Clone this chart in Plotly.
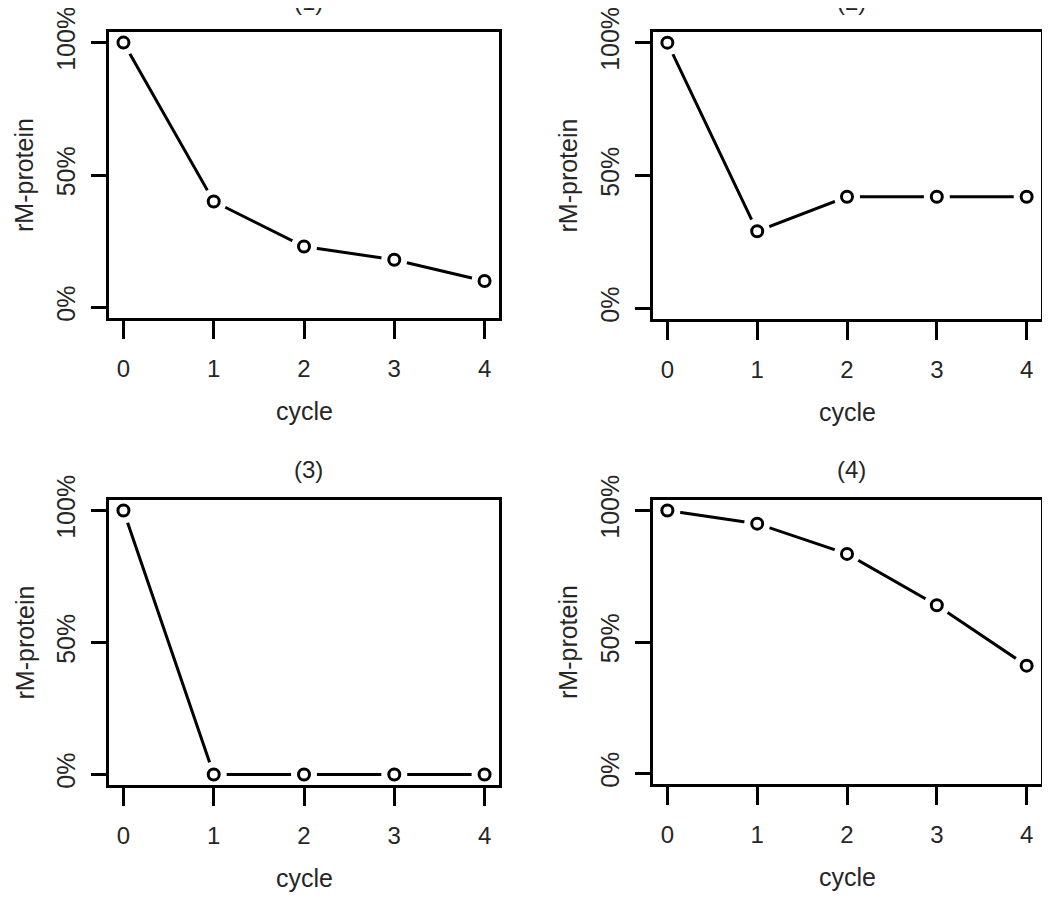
import plotly.graph_objects as go

# the page body has an 8px margin, so the figure is drawn 8px smaller and offset
PAGE_W, PAGE_H = 1050, 902
OFF = 8
W, H = PAGE_W - OFF, PAGE_H - OFF

cycles = [0, 1, 2, 3, 4]
panel1 = [100, 40, 23, 18, 10]
panel2 = [100, 29, 42, 42, 42]
panel3 = [100, 0, 0, 0, 0]
panel4 = [100, 95, 83.5, 64, 41]
panel_titles = ["(1)", "(2)", "(3)", "(4)"]
y_tickvals = [0, 50, 100]
y_ticktext = ["0%", "50%", "100%"]
x_label = "cycle"
y_label = "rM-protein"

series = [panel1, panel2, panel3, panel4]

# page-pixel boxes (left, right, top, bottom)
boxes = [(109, 499, 32, 318), (653, 1041, 32, 319),
         (109, 499, 500, 785), (653, 1041, 500, 784)]


def px(xp):
    return (xp - OFF) / W


def py(yp):
    return 1 - (yp - OFF) / H


TXT = "#262626"
FONT = "Liberation Sans, Arial, sans-serif"

fig = go.Figure()
annotations = []
for i, (vals, (l, r, t, b)) in enumerate(zip(series, boxes)):
    n = i + 1
    xa = "x" if n == 1 else f"x{n}"
    ya = "y" if n == 1 else f"y{n}"
    # line with white discs at the points -> gaps like R's type="b"
    fig.add_trace(go.Scatter(x=cycles, y=vals, mode="lines+markers", xaxis=xa, yaxis=ya,
                             line=dict(color="black", width=3),
                             marker=dict(symbol="circle", size=26, color="white",
                                         line=dict(width=0)),
                             showlegend=False, hoverinfo="skip"))
    # open circles
    fig.add_trace(go.Scatter(x=cycles, y=vals, mode="markers", xaxis=xa, yaxis=ya,
                             marker=dict(symbol="circle-open", size=11, color="black",
                                         line=dict(width=3, color="black")),
                             showlegend=False))
    common = dict(showline=True, linecolor="black", linewidth=3, mirror=True,
                  ticks="outside", tickwidth=3, tickcolor="black",
                  showgrid=False, zeroline=False, automargin=False,
                  ticklabeloverflow="allow")
    fig.layout[("xaxis" if n == 1 else f"xaxis{n}")] = dict(
        domain=[px(l), px(r)], anchor=ya, range=[-0.16, 4.16],
        tickvals=cycles, ticktext=[str(c) for c in cycles],
        ticklen=18, ticklabelstandoff=9,
        tickfont=dict(family=FONT, size=24, color=TXT), **common)
    fig.layout[("yaxis" if n == 1 else f"yaxis{n}")] = dict(
        domain=[py(b), py(t)], anchor=xa, range=[-4, 104],
        tickvals=y_tickvals, ticktext=y_ticktext, tickangle=-90,
        ticklen=15, ticklabelstandoff=6,
        tickfont=dict(family=FONT, size=25, color=TXT), **common)
    cx = (l + r) / 2
    annotations.append(dict(text=x_label, x=px(cx), y=py(b + 93),
                            xref="paper", yref="paper", showarrow=False,
                            xanchor="center", yanchor="middle",
                            font=dict(family=FONT, size=25, color=TXT)))
    annotations.append(dict(text=y_label, x=px(l - 101), y=py((t + b) / 2),
                            xref="paper", yref="paper", showarrow=False, textangle=-90,
                            xanchor="left", yanchor="middle",
                            font=dict(family=FONT, size=25, color=TXT)))
    annotations.append(dict(text=panel_titles[i], x=px(cx + 4), y=py(t - 31),
                            xref="paper", yref="paper", showarrow=False,
                            xanchor="center", yanchor="middle",
                            font=dict(family=FONT, size=24, color=TXT)))

fig.update_layout(width=W, height=H, margin=dict(l=0, r=0, t=0, b=0, autoexpand=False),
                  paper_bgcolor="white", plot_bgcolor="white",
                  annotations=annotations, showlegend=False)

fig.write_html("out.html")
